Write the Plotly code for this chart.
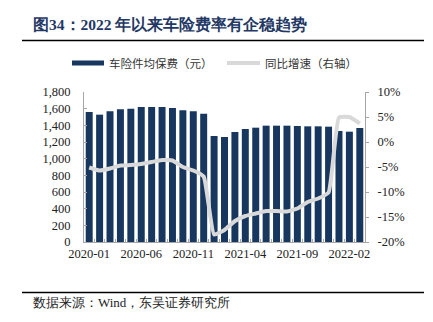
import plotly.graph_objects as go

months = ["2020-01","2020-02","2020-03","2020-04","2020-05","2020-06","2020-07","2020-08","2020-09","2020-10","2020-11","2020-12",
          "2021-01","2021-02","2021-03","2021-04","2021-05","2021-06","2021-07","2021-08","2021-09","2021-10","2021-11","2021-12",
          "2022-01","2022-02","2022-03"]
premium = [1560,1528,1568,1592,1600,1620,1620,1620,1608,1580,1568,1538,
           1272,1260,1320,1356,1372,1396,1396,1396,1392,1388,1388,1384,
           1332,1324,1368]
yoy = [-5.1,-5.7,-5.3,-4.7,-4.6,-4.4,-4.0,-3.6,-3.7,-5.0,-5.7,-6.9,
       -18.5,-17.6,-15.8,-14.8,-14.3,-13.8,-13.8,-13.9,-13.3,-12.0,-11.3,-10.1,
       4.9,5.0,3.7]
label_months = ["2020-01","2020-06","2020-11","2021-04","2021-09","2022-02"]
left_ticks = [0,200,400,600,800,1000,1200,1400,1600,1800]
left_labels = ["0","200","400","600","800","1,000","1,200","1,400","1,600","1,800"]
right_ticks = [-20,-15,-10,-5,0,5,10]
right_labels = ["-20%","-15%","-10%","-5%","0%","5%","10%"]

NAVY = "#17375E"
GRAY = "#D9D9D9"
SERIF = "Liberation Serif"
CJK = "Noto Sans CJK SC"

W, H = 433, 322
L, R, T, B = 84, 365, 92, 242

def px(x):
    return (x - L) / (R - L)

def py(y):
    return (B - y) / (B - T)

fig = go.Figure()
fig.add_trace(go.Bar(x=months, y=premium, marker_color=NAVY, marker_line_width=0,
                     name="车险件均保费（元）", showlegend=False))
fig.add_trace(go.Scatter(x=months, y=yoy, yaxis="y2", mode="lines",
                         line=dict(color=GRAY, width=4, shape="spline", smoothing=0.4),
                         name="同比增速（右轴）", showlegend=False))

ticktext = [m if m in label_months else "" for m in months]
tickfont = dict(family=SERIF, size=12.5, color="#222")

fig.update_layout(
    width=W, height=H,
    margin=dict(l=L, r=W - R, t=T, b=H - B),
    paper_bgcolor="white", plot_bgcolor="white",
    bargap=0.33,
    font=dict(family=SERIF, size=12.5, color="#222"),
    xaxis=dict(type="category", tickvals=months, ticktext=ticktext, tickson="boundaries",
               ticks="inside", ticklen=3, tickcolor="#A6A6A6",
               showline=True, linecolor="#A6A6A6", linewidth=1, showgrid=False,
               tickfont=tickfont, tickangle=0),
    yaxis=dict(range=[0, 1800], tickvals=left_ticks, ticktext=left_labels,
               showline=True, linecolor="#A6A6A6", linewidth=1, showgrid=False, zeroline=False,
               ticks="inside", ticklen=3, tickcolor="#A6A6A6", ticklabelstandoff=10,
               tickfont=tickfont),
    yaxis2=dict(range=[-20, 10], tickvals=right_ticks, ticktext=right_labels, overlaying="y", side="right",
                showline=True, linecolor="#A6A6A6", linewidth=1, showgrid=False, zeroline=False,
                ticks="outside", ticklen=3, tickcolor="#A6A6A6", ticklabelstandoff=6,
                tickfont=tickfont),
)

shapes = [
    dict(type="line", xref="paper", yref="paper", x0=px(22), x1=px(424), y0=py(40.5), y1=py(40.5),
         line=dict(color="black", width=1.7)),
    dict(type="line", xref="paper", yref="paper", x0=px(22), x1=px(424), y0=py(292.5), y1=py(292.5),
         line=dict(color="black", width=1.7)),
    dict(type="rect", xref="paper", yref="paper", x0=px(72), x1=px(104), y0=py(65.5), y1=py(60.5),
         fillcolor=NAVY, line=dict(width=0)),
    dict(type="line", xref="paper", yref="paper", x0=px(227), x1=px(260), y0=py(63), y1=py(63),
         line=dict(color=GRAY, width=4)),
]
annotations = [
    dict(text="<b>图34：2022 年以来车险费率有企稳趋势</b>", xref="paper", yref="paper",
         x=px(31), y=py(24), xanchor="left", yanchor="middle", showarrow=False,
         font=dict(family=SERIF, size=15.5, color="#1F3864")),
    dict(text="车险件均保费（元）", xref="paper", yref="paper", x=px(107), y=py(63),
         xanchor="left", yanchor="middle", showarrow=False,
         font=dict(family=CJK, size=11.5, color="#333")),
    dict(text="同比增速（右轴）", xref="paper", yref="paper", x=px(263), y=py(63),
         xanchor="left", yanchor="middle", showarrow=False,
         font=dict(family=CJK, size=11.5, color="#333")),
    dict(text="数据来源：Wind，东吴证券研究所", xref="paper", yref="paper", x=px(31), y=py(302),
         xanchor="left", yanchor="middle", showarrow=False,
         font=dict(family=SERIF, size=13, color="#222")),
]
fig.update_layout(shapes=shapes, annotations=annotations)

fig.write_html("out.html")
